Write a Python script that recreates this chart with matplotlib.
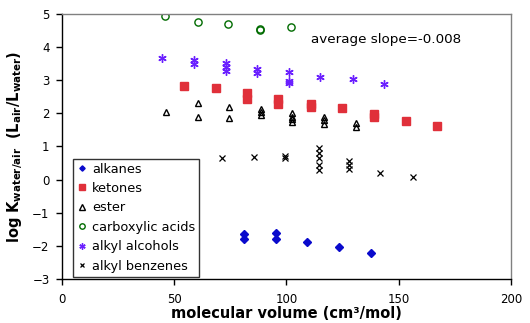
import matplotlib
matplotlib.use("Agg")
import matplotlib.pyplot as plt

# ---- data ----
alkanes_x = [81.2, 81.2, 95.5, 95.5, 109.3, 123.5, 137.8]
alkanes_y = [-1.65, -1.80, -1.62, -1.78, -1.89, -2.04, -2.22]

ketones_x = [54.5, 68.5, 82.5, 82.5, 96.4, 96.4, 110.8, 110.8, 124.9, 139.1, 139.1, 153.1, 167.2]
ketones_y = [2.82, 2.76, 2.60, 2.43, 2.42, 2.28, 2.27, 2.19, 2.15, 1.97, 1.89, 1.76, 1.61]

ester_x = [46.5, 60.7, 60.7, 74.5, 74.5, 88.6, 88.6, 88.6, 102.6, 102.6, 102.6, 102.6,
           116.7, 116.7, 116.7, 131.0, 131.0]
ester_y = [2.05, 2.32, 1.90, 2.18, 1.85, 2.14, 2.04, 1.96, 2.00, 1.90, 1.82, 1.74,
           1.89, 1.80, 1.68, 1.71, 1.59]

acids_x = [46.0, 60.4, 74.1, 88.3, 88.3, 102.1]
acids_y = [4.93, 4.75, 4.69, 4.51, 4.54, 4.61]

alcohols_x = [44.4, 58.6, 58.6, 72.9, 72.9, 72.9, 86.7, 86.7, 101.1, 101.1, 101.1,
              115.1, 129.5, 143.4]
alcohols_y = [3.68, 3.60, 3.48, 3.51, 3.39, 3.27, 3.34, 3.23, 3.26, 2.99, 2.92,
              3.11, 3.03, 2.89]

benzenes_x = [71.4, 85.5, 99.5, 99.5, 114.7, 114.7, 114.7, 114.7, 114.7,
              127.8, 127.8, 127.8, 141.8, 156.2]
benzenes_y = [0.66, 0.69, 0.70, 0.64, 0.95, 0.80, 0.64, 0.44, 0.29,
              0.56, 0.44, 0.32, 0.21, 0.08]

x_ticks = [0, 50, 100, 150, 200]
y_ticks = [-3, -2, -1, 0, 1, 2, 3, 4, 5]

plt.rcParams['mathtext.fontset'] = 'dejavusans'

fig = plt.figure(figsize=(5.30, 3.23), dpi=100)
ax = fig.add_axes([0.117, 0.136, 0.847, 0.821])

ax.plot(alkanes_x, alkanes_y, linestyle='none', marker='D', ms=3.6,
        color='#0A0ACC', mec='#0A0ACC', label='alkanes')
ax.plot(ketones_x, ketones_y, linestyle='none', marker='s', ms=5.2,
        color='#E0303A', mec='#E0303A', label='ketones')
ax.plot(ester_x, ester_y, linestyle='none', marker='^', ms=5.0, mfc='none',
        mec='black', mew=1.0, label='ester')
ax.plot(acids_x, acids_y, linestyle='none', marker='o', ms=5.2, mfc='none',
        mec='#006B00', mew=1.0, label='carboxylic acids')
ax.plot(alcohols_x, alcohols_y, linestyle='none', marker=(6, 2, 0), ms=6,
        mec='#6A1FFF', mew=1.0, label='alkyl alcohols')
ax.plot(benzenes_x, benzenes_y, linestyle='none', marker='x', ms=4.2,
        mec='black', mew=0.9, label='alkyl benzenes')

ax.set_xlim(0, 200)
ax.set_ylim(-3, 5)
ax.set_xticks(x_ticks)
ax.set_yticks(y_ticks)
ax.tick_params(direction='out', length=4, width=1, labelsize=8.5, colors='black')
ax.tick_params(axis='x', pad=6)
ax.tick_params(axis='y', pad=5)

for s in ['left', 'bottom']:
    ax.spines[s].set_color('black')
    ax.spines[s].set_linewidth(1.0)
for s in ['top', 'right']:
    ax.spines[s].set_color('#808080')
    ax.spines[s].set_linewidth(1.0)

ax.set_xlabel('molecular volume (cm³/mol)', fontsize=10.5, fontweight='bold', labelpad=0)
ax.set_ylabel(r'$\mathbf{log\ K_{water/air}\ \ (L_{air}/L_{water})}$', fontsize=10.5, labelpad=5)

ax.text(110.8, 4.24, 'average slope=-0.008', fontsize=9.7, ha='left', va='center')

leg = ax.legend(loc='lower left', bbox_to_anchor=(0.024, 0.009), borderaxespad=0,
                fontsize=9.3, frameon=True, fancybox=False, edgecolor='black',
                handlelength=0.8, handletextpad=0.4, labelspacing=0.5,
                borderpad=0.3, markerscale=0.75)
leg.get_frame().set_linewidth(1.0)

fig.savefig('out.png', dpi=100)
